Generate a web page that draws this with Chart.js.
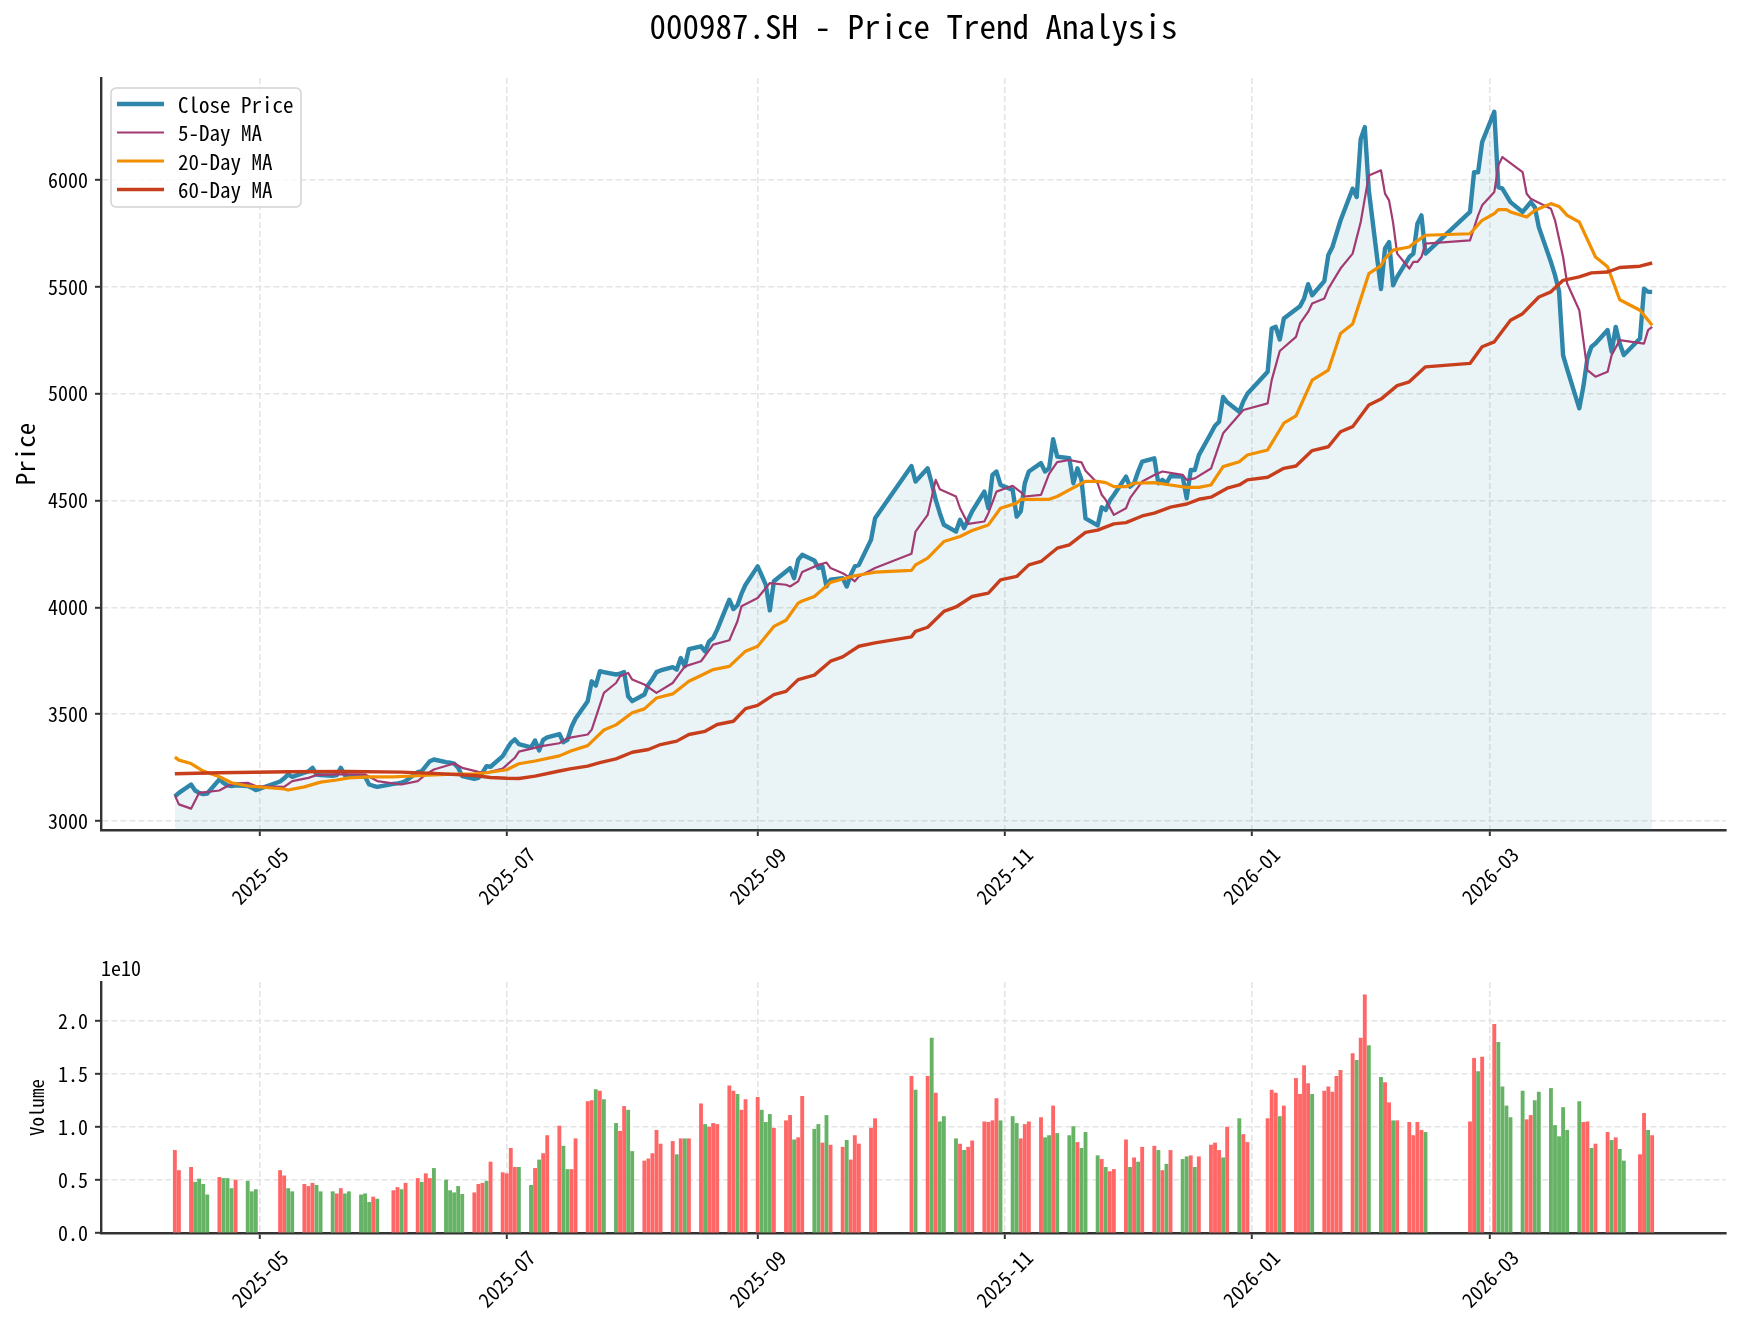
<!DOCTYPE html>
<html>
<head>
<meta charset="utf-8">
<title>000987.SH - Price Trend Analysis</title>
<script src="https://cdn.jsdelivr.net/npm/chart.js@4.4.1/dist/chart.umd.min.js"></script>
<style>
  html, body { margin: 0; padding: 0; background: #fff; }
  #wrap { position: relative; width: 1743px; height: 1327px; }
  #price { position: absolute; left: 0; top: 0; }
  #volume { position: absolute; left: 0; top: 930px; }
</style>
</head>
<body>
<div id="wrap">
  <canvas id="price" width="1743" height="930"></canvas>
  <canvas id="volume" width="1743" height="397"></canvas>
</div>
<script>
// ---- data ----

const tradeDates = [
  '2025-04-10','2025-04-11','2025-04-14','2025-04-15','2025-04-16','2025-04-17','2025-04-18','2025-04-21','2025-04-22','2025-04-23','2025-04-24','2025-04-25','2025-04-28','2025-04-29','2025-04-30',
  '2025-05-06','2025-05-07','2025-05-08','2025-05-09','2025-05-12','2025-05-13','2025-05-14','2025-05-15','2025-05-16','2025-05-19','2025-05-20','2025-05-21','2025-05-22','2025-05-23','2025-05-26','2025-05-27','2025-05-28','2025-05-29','2025-05-30',
  '2025-06-03','2025-06-04','2025-06-05','2025-06-06','2025-06-09','2025-06-10','2025-06-11','2025-06-12','2025-06-13','2025-06-16','2025-06-17','2025-06-18','2025-06-19','2025-06-20','2025-06-23','2025-06-24','2025-06-25','2025-06-26','2025-06-27','2025-06-30',
  '2025-07-01','2025-07-02','2025-07-03','2025-07-04','2025-07-07','2025-07-08','2025-07-09','2025-07-10','2025-07-11','2025-07-14','2025-07-15','2025-07-16','2025-07-17','2025-07-18','2025-07-21','2025-07-22','2025-07-23','2025-07-24','2025-07-25','2025-07-28','2025-07-29','2025-07-30','2025-07-31',
  '2025-08-01','2025-08-04','2025-08-05','2025-08-06','2025-08-07','2025-08-08','2025-08-11','2025-08-12','2025-08-13','2025-08-14','2025-08-15','2025-08-18','2025-08-19','2025-08-20','2025-08-21','2025-08-22','2025-08-25','2025-08-26','2025-08-27','2025-08-28','2025-08-29',
  '2025-09-01','2025-09-02','2025-09-03','2025-09-04','2025-09-05','2025-09-08','2025-09-09','2025-09-10','2025-09-11','2025-09-12','2025-09-15','2025-09-16','2025-09-17','2025-09-18','2025-09-19','2025-09-22','2025-09-23','2025-09-24','2025-09-25','2025-09-26','2025-09-29','2025-09-30',
  '2025-10-09','2025-10-10','2025-10-13','2025-10-14','2025-10-15','2025-10-16','2025-10-17','2025-10-20','2025-10-21','2025-10-22','2025-10-23','2025-10-24','2025-10-27','2025-10-28','2025-10-29','2025-10-30','2025-10-31',
  '2025-11-03','2025-11-04','2025-11-05','2025-11-06','2025-11-07','2025-11-10','2025-11-11','2025-11-12','2025-11-13','2025-11-14','2025-11-17','2025-11-18','2025-11-19','2025-11-20','2025-11-21','2025-11-24','2025-11-25','2025-11-26','2025-11-27','2025-11-28',
  '2025-12-01','2025-12-02','2025-12-03','2025-12-04','2025-12-05','2025-12-08','2025-12-09','2025-12-10','2025-12-11','2025-12-12','2025-12-15','2025-12-16','2025-12-17','2025-12-18','2025-12-19','2025-12-22','2025-12-23','2025-12-24','2025-12-25','2025-12-26','2025-12-29','2025-12-30','2025-12-31',
  '2026-01-05','2026-01-06','2026-01-07','2026-01-08','2026-01-09','2026-01-12','2026-01-13','2026-01-14','2026-01-15','2026-01-16','2026-01-19','2026-01-20','2026-01-21','2026-01-22','2026-01-23','2026-01-26','2026-01-27','2026-01-28','2026-01-29','2026-01-30',
  '2026-02-02','2026-02-03','2026-02-04','2026-02-05','2026-02-06','2026-02-09','2026-02-10','2026-02-11','2026-02-12','2026-02-13','2026-02-24','2026-02-25','2026-02-26','2026-02-27',
  '2026-03-02','2026-03-03','2026-03-04','2026-03-05','2026-03-06','2026-03-09','2026-03-10','2026-03-11','2026-03-12','2026-03-13','2026-03-16','2026-03-17','2026-03-18','2026-03-19','2026-03-20','2026-03-23','2026-03-24','2026-03-25','2026-03-26','2026-03-27','2026-03-30','2026-03-31',
  '2026-04-01','2026-04-02','2026-04-03','2026-04-07','2026-04-08','2026-04-09','2026-04-10'
];

const closePrice = [
  3115,3132,3171,3143,3132,3126,3129,3195,3179,3167,3164,3167,3164,3156,3145,
  3185,3200,3218,3207,3226,3232,3249,3218,3215,3212,3215,3249,3215,3212,3210,3207,3171,3165,3160,
  3174,3176,3179,3187,3229,3234,3257,3280,3288,3276,3273,3269,3249,3210,3198,3202,3226,3257,3254,3304,
  3335,3366,3382,3360,3345,3377,3330,3380,3392,3407,3369,3380,3440,3480,3561,3654,3634,3701,3697,3686,3690,3697,3584,
  3561,3592,3639,3665,3697,3705,3720,3709,3763,3724,3805,3818,3794,3841,3857,3896,4036,3992,4010,4064,4106,
  4192,4150,4106,3986,4122,4168,4184,4137,4223,4246,4220,4184,4192,4098,4130,4137,4098,4153,4192,4199,4316,4417,
  4662,4589,4651,4581,4503,4441,4387,4355,4410,4371,4410,4450,4542,4464,4620,4636,4573,
  4550,4425,4449,4581,4636,4675,4636,4651,4787,4706,4698,4581,4651,4597,4417,4384,4469,4456,4500,4526,
  4612,4565,4581,4636,4682,4698,4581,4597,4581,4615,4612,4511,4643,4643,4713,4815,4850,4869,4985,4960,4916,4965,5000,
  5103,5305,5313,5254,5352,5396,5410,5446,5513,5461,5527,5650,5687,5749,5811,5960,5921,6193,6248,5952,
  5490,5680,5710,5508,5547,5640,5656,5796,5835,5656,5851,6037,6037,6178,
  6320,5967,5960,5929,5897,5851,5874,5897,5874,5780,5616,5555,5480,5180,5115,4932,5033,5165,5220,5235,5298,5196,
  5313,5235,5181,5259,5492,5477,5477
];

// volume in units of 1e10
const VOLUME_UNIT = 1e10;
const volume = [
  0.78,0.59,0.62,0.48,0.51,0.46,0.36,0.525,0.515,0.515,0.42,0.50,0.49,0.39,0.41,
  0.59,0.54,0.42,0.39,0.46,0.44,0.47,0.45,0.39,0.39,0.37,0.42,0.37,0.39,0.36,0.37,0.29,0.34,0.32,
  0.40,0.43,0.41,0.47,0.515,0.48,0.56,0.515,0.61,0.50,0.40,0.38,0.44,0.365,0.38,0.46,0.47,0.49,0.67,0.57,
  0.56,0.80,0.62,0.62,0.45,0.61,0.69,0.75,0.92,1.01,0.82,0.60,0.60,0.89,1.24,1.25,1.355,1.34,1.26,1.035,0.96,1.195,1.16,
  0.77,0.68,0.70,0.75,0.97,0.84,0.865,0.74,0.89,0.89,0.89,1.22,1.025,1.00,1.035,1.025,1.39,1.34,1.31,1.16,1.26,
  1.28,1.16,1.045,1.12,0.99,1.06,1.11,0.88,0.90,1.29,0.98,1.025,0.85,1.11,0.83,0.81,0.875,0.69,0.92,0.84,0.99,1.08,
  1.48,1.35,1.48,1.84,1.32,1.05,1.10,0.89,0.84,0.78,0.81,0.87,1.05,1.045,1.06,1.27,1.06,
  1.10,1.035,0.89,1.025,1.05,1.09,0.90,0.92,1.20,0.94,0.92,1.005,0.855,0.80,0.95,0.73,0.695,0.62,0.58,0.60,
  0.88,0.62,0.71,0.67,0.81,0.82,0.78,0.59,0.65,0.78,0.695,0.72,0.73,0.62,0.72,0.83,0.85,0.78,0.71,1.00,1.08,0.93,0.855,
  1.08,1.35,1.32,1.10,1.20,1.46,1.31,1.58,1.41,1.31,1.34,1.38,1.33,1.48,1.535,1.695,1.63,1.84,2.25,1.77,
  1.47,1.42,1.23,1.06,1.06,1.045,0.92,1.045,0.97,0.95,1.05,1.65,1.525,1.66,
  1.97,1.80,1.38,1.20,1.09,1.34,1.07,1.11,1.25,1.33,1.365,1.015,0.91,1.185,0.97,1.24,1.045,1.05,0.80,0.84,0.95,0.875,
  0.90,0.79,0.68,0.74,1.13,0.97,0.92
];

// 1 = up day (red bar), 0 = down day (green bar)
const volumeUp = [
  1,1,1,0,0,0,0,1,0,0,0,1,0,0,0,
  1,1,0,0,1,1,1,0,0,0,1,1,0,0,0,0,0,1,0,
  1,1,0,1,1,0,1,1,0,0,0,0,0,0,1,1,1,0,1,1,
  1,1,1,0,0,1,0,1,1,1,0,0,1,1,1,1,0,1,0,0,1,1,0,
  0,1,1,1,1,1,1,0,1,0,1,1,0,1,1,1,1,1,0,1,1,
  1,0,0,0,1,1,1,0,1,1,0,0,1,0,1,1,0,1,1,1,1,1,
  1,0,1,0,1,0,0,0,1,0,1,1,1,1,1,1,0,
  0,0,1,1,1,1,0,0,1,0,0,0,1,0,0,0,1,0,1,1,
  1,0,1,0,1,1,0,1,0,1,0,0,1,0,1,1,1,1,0,1,0,1,1,
  1,1,1,0,1,1,1,1,1,0,1,1,1,1,1,1,0,1,1,0,
  0,1,1,0,1,1,1,1,1,0,1,1,0,1,
  1,0,0,0,0,0,1,1,0,0,0,0,0,0,0,0,1,1,0,1,1,0,
  1,0,0,1,1,0,1
];

const ma5Dates = [
  '2025-04-10','2025-04-11','2025-04-14','2025-04-16','2025-04-21','2025-04-23','2025-04-25','2025-04-28','2025-04-30',
  '2025-05-07','2025-05-09','2025-05-13','2025-05-15','2025-05-20','2025-05-27','2025-05-30',
  '2025-06-05','2025-06-09','2025-06-11','2025-06-13','2025-06-18','2025-06-20','2025-06-24','2025-06-26','2025-06-30',
  '2025-07-03','2025-07-04','2025-07-10','2025-07-14','2025-07-16','2025-07-21','2025-07-22','2025-07-25','2025-07-28','2025-07-29','2025-07-31',
  '2025-08-01','2025-08-04','2025-08-07','2025-08-11','2025-08-14','2025-08-18','2025-08-21','2025-08-25','2025-08-27','2025-08-28',
  '2025-09-01','2025-09-04','2025-09-08','2025-09-09','2025-09-11','2025-09-12','2025-09-16','2025-09-18','2025-09-19','2025-09-22','2025-09-24','2025-09-25','2025-09-26','2025-09-30',
  '2025-10-09','2025-10-10','2025-10-13','2025-10-15','2025-10-16','2025-10-20','2025-10-21','2025-10-23','2025-10-27','2025-10-28','2025-10-30',
  '2025-11-03','2025-11-05','2025-11-06','2025-11-10','2025-11-12','2025-11-14','2025-11-17','2025-11-20','2025-11-21','2025-11-24','2025-11-25','2025-11-26','2025-11-28',
  '2025-12-01','2025-12-02','2025-12-05','2025-12-08','2025-12-10','2025-12-15','2025-12-16','2025-12-18','2025-12-22','2025-12-25','2025-12-30',
  '2026-01-05','2026-01-06','2026-01-08','2026-01-12','2026-01-13','2026-01-15','2026-01-16','2026-01-19','2026-01-20','2026-01-23','2026-01-26','2026-01-28','2026-01-30',
  '2026-02-02','2026-02-03','2026-02-04','2026-02-05','2026-02-06','2026-02-09','2026-02-10','2026-02-11','2026-02-12','2026-02-13','2026-02-24','2026-02-26','2026-02-27',
  '2026-03-02','2026-03-03','2026-03-04','2026-03-09','2026-03-10','2026-03-11','2026-03-16','2026-03-17','2026-03-19','2026-03-20','2026-03-23','2026-03-25','2026-03-27','2026-03-30','2026-03-31',
  '2026-04-02','2026-04-08','2026-04-09','2026-04-10'
];
const ma5Values = [
  3120,3078,3058,3132,3143,3164,3176,3179,3164,
  3160,3187,3202,3215,3218,3218,3187,
  3171,3187,3218,3241,3269,3249,3230,3226,3245,
  3296,3325,3352,3364,3388,3405,3428,3600,3646,3678,3693,
  3662,3639,3600,3646,3724,3748,3826,3846,3935,4005,
  4044,4114,4106,4098,4122,4166,4199,4210,4184,4160,4137,4122,4145,4184,
  4251,4355,4433,4597,4553,4519,4464,4391,4402,4441,4542,
  4569,4540,4519,4527,4625,4680,4690,4679,4640,4581,4527,4503,4433,
  4464,4511,4589,4620,4636,4620,4597,4604,4650,4815,4924,
  4955,5064,5200,5266,5329,5383,5422,5446,5492,5586,5656,5804,6022,
  6046,5937,5905,5800,5656,5586,5617,5617,5640,5703,5718,5835,5882,
  5944,6069,6108,6037,5936,5913,5866,5812,5640,5516,5391,5111,5080,5103,5181,
  5251,5235,5298,5313
];

const ma20Dates = [
  '2025-04-10','2025-04-11','2025-04-14','2025-04-17','2025-04-21','2025-04-24','2025-04-28',
  '2025-05-07','2025-05-08','2025-05-12','2025-05-16','2025-05-20','2025-05-23','2025-05-28',
  '2025-06-03','2025-06-10','2025-06-16','2025-06-23','2025-06-26',
  '2025-07-01','2025-07-04','2025-07-08','2025-07-14','2025-07-17','2025-07-21','2025-07-25','2025-07-28',
  '2025-08-01','2025-08-04','2025-08-07','2025-08-11','2025-08-15','2025-08-18','2025-08-21','2025-08-25','2025-08-29',
  '2025-09-01','2025-09-05','2025-09-08','2025-09-11','2025-09-12','2025-09-15','2025-09-19','2025-09-22','2025-09-25','2025-09-29','2025-09-30',
  '2025-10-09','2025-10-10','2025-10-13','2025-10-17','2025-10-21','2025-10-24','2025-10-28','2025-10-31',
  '2025-11-04','2025-11-05','2025-11-12','2025-11-14','2025-11-17','2025-11-21','2025-11-24','2025-11-26','2025-11-28',
  '2025-12-01','2025-12-03','2025-12-08','2025-12-12','2025-12-16','2025-12-19','2025-12-22','2025-12-25','2025-12-29','2025-12-31',
  '2026-01-05','2026-01-09','2026-01-12','2026-01-16','2026-01-20','2026-01-23','2026-01-26','2026-01-30',
  '2026-02-02','2026-02-03','2026-02-05','2026-02-09','2026-02-10','2026-02-13','2026-02-24','2026-02-27',
  '2026-03-02','2026-03-03','2026-03-05','2026-03-06','2026-03-10','2026-03-12','2026-03-16','2026-03-18','2026-03-20','2026-03-23','2026-03-27','2026-03-30',
  '2026-04-02','2026-04-07','2026-04-10'
];
const ma20Values = [
  3299,3285,3269,3234,3207,3179,3164,
  3150,3145,3160,3182,3192,3202,3207,
  3207,3213,3218,3221,3226,
  3240,3268,3281,3305,3329,3353,3426,3450,
  3507,3525,3576,3595,3654,3681,3709,3724,3795,
  3818,3911,3940,4020,4030,4051,4117,4133,4148,4161,4165,
  4173,4199,4231,4308,4332,4360,4386,4464,
  4488,4506,4506,4519,4550,4590,4590,4584,4565,
  4565,4581,4584,4573,4562,4562,4573,4659,4682,4713,
  4737,4862,4896,5064,5111,5282,5326,5562,
  5600,5633,5672,5687,5703,5742,5749,5812,
  5843,5862,5862,5851,5827,5858,5890,5877,5835,5804,5640,5594,
  5440,5391,5321
];

const ma60Dates = [
  '2025-04-10','2025-04-21','2025-05-08','2025-05-23','2025-06-05','2025-06-13','2025-06-23','2025-06-27',
  '2025-07-01','2025-07-04','2025-07-08','2025-07-14','2025-07-17','2025-07-21','2025-07-24','2025-07-28',
  '2025-08-01','2025-08-05','2025-08-08','2025-08-12','2025-08-15','2025-08-19','2025-08-22','2025-08-26','2025-08-29',
  '2025-09-01','2025-09-05','2025-09-08','2025-09-11','2025-09-15','2025-09-19','2025-09-22','2025-09-26','2025-09-30',
  '2025-10-09','2025-10-10','2025-10-13','2025-10-17','2025-10-20','2025-10-24','2025-10-28','2025-10-31',
  '2025-11-04','2025-11-07','2025-11-10','2025-11-14','2025-11-17','2025-11-21','2025-11-24','2025-11-28',
  '2025-12-01','2025-12-05','2025-12-08','2025-12-12','2025-12-16','2025-12-19','2025-12-22','2025-12-26','2025-12-29','2025-12-31',
  '2026-01-05','2026-01-09','2026-01-12','2026-01-16','2026-01-20','2026-01-23','2026-01-26','2026-01-30',
  '2026-02-02','2026-02-06','2026-02-09','2026-02-13','2026-02-24','2026-02-27',
  '2026-03-02','2026-03-06','2026-03-09','2026-03-13','2026-03-16','2026-03-19','2026-03-23','2026-03-26','2026-03-30',
  '2026-04-02','2026-04-07','2026-04-10'
];
const ma60Values = [
  3221,3226,3231,3232,3229,3223,3213,3204,
  3200,3199,3210,3234,3245,3257,3273,3291,
  3322,3335,3358,3374,3405,3420,3452,3467,3526,
  3541,3592,3607,3662,3683,3748,3768,3818,3834,
  3862,3888,3907,3981,4002,4051,4067,4129,
  4145,4199,4215,4277,4293,4351,4362,4391,
  4397,4428,4441,4469,4484,4506,4516,4558,4573,4597,
  4609,4651,4662,4734,4752,4822,4846,4947,
  4975,5038,5056,5126,5142,5220,
  5243,5344,5375,5453,5477,5531,5547,5566,5570,
  5591,5597,5612
];

const monthTickDates = ['2025-05-01','2025-07-01','2025-09-01','2025-11-01','2026-01-01','2026-03-01'];
const monthTickLabels = ['2025-05','2025-07','2025-09','2025-11','2026-01','2026-03'];
const priceTicks = [3000, 3500, 4000, 4500, 5000, 5500, 6000];
const volumeTicks = [0, 0.5, 1.0, 1.5, 2.0];

// ---- helpers ----
const DAY_MS = 86400000;
const dayOf = s => Date.parse(s) / DAY_MS;
const pts = (dates, vals) => dates.map((d, i) => ({ x: dayOf(d), y: vals[i] }));

const FONT = "'Noto Sans Mono CJK SC', 'DejaVu Sans Mono', monospace";
const TICK_SIZE = 20;
const X_MIN = dayOf('2025-04-10') - 18.25;
const X_MAX = dayOf('2026-04-10') + 18.25;

const COLORS = { close: '#2E86AB', ma5: '#A23B72', ma20: '#F18F01', ma60: '#C73E1D' };
const UP_COLOR = 'rgb(255,102,102)';
const DOWN_COLOR = 'rgb(102,179,102)';

const gridOpts = {
  color: '#e4e4e4', lineWidth: 1.6,
  drawTicks: true, tickLength: 6, tickWidth: 2, tickColor: '#333', tickBorderDash: []
};
const borderOpts = { display: true, color: '#333', width: 2.4, dash: [6, 3] };

function xScale(height) {
  return {
    type: 'linear', min: X_MIN, max: X_MAX, offset: false,
    afterBuildTicks: s => { s.ticks = monthTickDates.map(d => ({ value: dayOf(d) })); },
    afterFit: s => { s.height = height; },
    ticks: { display: false },
    grid: Object.assign({ offset: false }, gridOpts),
    border: borderOpts
  };
}

// rotated month labels, bbox centred on the tick like matplotlib
function drawMonthLabels(chart, yTop) {
  const ctx = chart.ctx;
  ctx.save();
  ctx.font = TICK_SIZE + 'px ' + FONT;
  ctx.fillStyle = '#000';
  ctx.textAlign = 'center';
  ctx.textBaseline = 'middle';
  monthTickDates.forEach((d, i) => {
    const x = chart.scales.x.getPixelForValue(dayOf(d));
    const len = ctx.measureText(monthTickLabels[i]).width;
    const half = (len + TICK_SIZE) / Math.SQRT2 / 2;
    ctx.save();
    ctx.translate(x, yTop + half);
    ctx.rotate(-Math.PI / 4);
    ctx.fillText(monthTickLabels[i], 0, 0);
    ctx.restore();
  });
  ctx.restore();
}

function drawRotatedTitle(ctx, text, x, y, size) {
  ctx.save();
  ctx.font = size + 'px ' + FONT;
  ctx.fillStyle = '#000';
  ctx.textAlign = 'center';
  ctx.textBaseline = 'middle';
  ctx.translate(x, y);
  ctx.rotate(-Math.PI / 2);
  ctx.fillText(text, 0, 0);
  ctx.restore();
}

const legendItems = [
  { label: 'Close Price', color: COLORS.close, width: 4.4 },
  { label: '5-Day MA', color: COLORS.ma5, width: 2.2 },
  { label: '20-Day MA', color: COLORS.ma20, width: 3.2 },
  { label: '60-Day MA', color: COLORS.ma60, width: 3.4 }
];

const priceDecor = {
  id: 'priceDecor',
  afterDraw(chart) {
    const ctx = chart.ctx;
    const area = chart.chartArea;

    // title
    ctx.save();
    ctx.font = '33px ' + FONT;
    ctx.fillStyle = '#000';
    ctx.textAlign = 'center';
    ctx.textBaseline = 'middle';
    ctx.fillText('000987.SH - Price Trend Analysis', (area.left + area.right) / 2, 26);
    ctx.restore();

    drawRotatedTitle(ctx, 'Price', 25, (area.top + area.bottom) / 2, 25);
    drawMonthLabels(chart, area.bottom + 14);

    // legend box, upper left inside the plot
    ctx.save();
    const bx = 111, by = 88, bw = 190, bh = 119, r = 5;
    ctx.beginPath();
    ctx.moveTo(bx + r, by);
    ctx.arcTo(bx + bw, by, bx + bw, by + bh, r);
    ctx.arcTo(bx + bw, by + bh, bx, by + bh, r);
    ctx.arcTo(bx, by + bh, bx, by, r);
    ctx.arcTo(bx, by, bx + bw, by, r);
    ctx.closePath();
    ctx.fillStyle = 'rgba(255,255,255,0.8)';
    ctx.fill();
    ctx.strokeStyle = '#d2d2d2';
    ctx.lineWidth = 1.5;
    ctx.stroke();

    ctx.font = '21px ' + FONT;
    ctx.fillStyle = '#000';
    ctx.textAlign = 'left';
    ctx.textBaseline = 'middle';
    legendItems.forEach((it, i) => {
      const y = 104 + i * 28.5;
      ctx.beginPath();
      ctx.moveTo(117, y);
      ctx.lineTo(164, y);
      ctx.strokeStyle = it.color;
      ctx.lineWidth = it.width;
      ctx.stroke();
      ctx.fillText(it.label, 178, y + 1);
    });
    ctx.restore();
  }
};

const volumeDecor = {
  id: 'volumeDecor',
  afterDraw(chart) {
    const ctx = chart.ctx;
    const area = chart.chartArea;
    drawRotatedTitle(ctx, 'Volume', 37, (area.top + area.bottom) / 2, 19);
    drawMonthLabels(chart, area.bottom + 14);
    ctx.save();
    ctx.font = TICK_SIZE + 'px ' + FONT;
    ctx.fillStyle = '#000';
    ctx.textAlign = 'left';
    ctx.textBaseline = 'bottom';
    ctx.fillText('1e10', area.left, area.top - 4);
    ctx.restore();
  }
};

// ---- price panel ----
new Chart(document.getElementById('price'), {
  type: 'line',
  data: {
    datasets: [
      { label: 'Close Price', data: pts(tradeDates, closePrice), borderColor: COLORS.close, borderWidth: 4.4,
        backgroundColor: 'rgba(46,134,171,0.1)', fill: 'start', order: 4 },
      { label: '5-Day MA', data: pts(ma5Dates, ma5Values), borderColor: COLORS.ma5, borderWidth: 2.2, fill: false, order: 3 },
      { label: '20-Day MA', data: pts(ma20Dates, ma20Values), borderColor: COLORS.ma20, borderWidth: 3.2, fill: false, order: 2 },
      { label: '60-Day MA', data: pts(ma60Dates, ma60Values), borderColor: COLORS.ma60, borderWidth: 3.4, fill: false, order: 1 }
    ]
  },
  options: {
    responsive: false,
    animation: false,
    layout: { padding: { top: 78, right: 17, left: 0, bottom: 0 } },
    elements: { point: { radius: 0 }, line: { tension: 0, borderJoinStyle: 'round' } },
    plugins: { legend: { display: false }, tooltip: { enabled: false } },
    scales: {
      x: xScale(100),
      y: {
        min: 2958, max: 6478,
        afterBuildTicks: s => { s.ticks = priceTicks.map(v => ({ value: v })); },
        afterFit: s => { s.width = 101; },
        ticks: { font: { family: FONT, size: TICK_SIZE }, color: '#000', padding: 7, callback: v => String(v) },
        grid: gridOpts,
        border: borderOpts
      }
    }
  },
  plugins: [priceDecor]
});

// ---- volume panel ----
new Chart(document.getElementById('volume'), {
  type: 'bar',
  data: {
    datasets: [{
      label: 'Volume',
      data: tradeDates.map((d, i) => ({ x: dayOf(d), y: volume[i] * VOLUME_UNIT })),
      backgroundColor: volumeUp.map(u => (u ? UP_COLOR : DOWN_COLOR)),
      borderWidth: 0,
      barThickness: 3.2
    }]
  },
  options: {
    responsive: false,
    animation: false,
    layout: { padding: { top: 52, right: 17, left: 0, bottom: 0 } },
    plugins: { legend: { display: false }, tooltip: { enabled: false } },
    scales: {
      x: xScale(94),
      y: {
        min: 0, max: 2.37 * VOLUME_UNIT,
        afterBuildTicks: s => { s.ticks = volumeTicks.map(v => ({ value: v * VOLUME_UNIT })); },
        afterFit: s => { s.width = 101; },
        ticks: { font: { family: FONT, size: TICK_SIZE }, color: '#000', padding: 7,
                 callback: v => (v / VOLUME_UNIT).toFixed(1) },
        grid: gridOpts,
        border: borderOpts
      }
    }
  },
  plugins: [volumeDecor]
});
</script>
</body>
</html>
